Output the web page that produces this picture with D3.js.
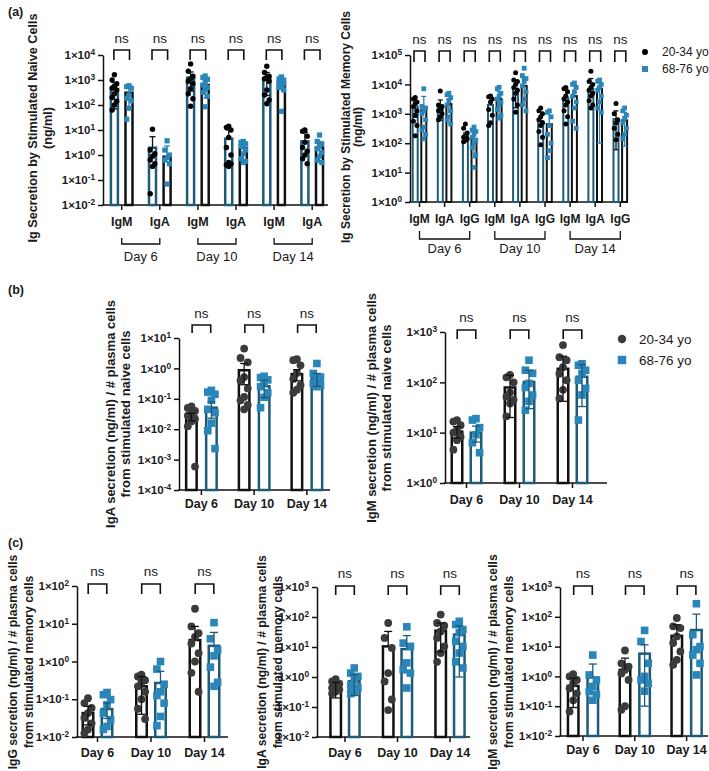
<!DOCTYPE html>
<meta charset="utf-8">
<style>
body { margin: 0; background: #fff; }
text { font-family: "Liberation Sans", Arial, Helvetica, sans-serif; fill: #1a1a1a; }
</style>
<body>
<script src="https://d3js.org/d3.v7.min.js"></script>
<script>

// ---- categories ----
var days = ["Day 6", "Day 10", "Day 14"];
var naiveCats = ["IgM", "IgA", "IgM", "IgA", "IgM", "IgA"];
var memoryCats = ["IgM", "IgA", "IgG", "IgM", "IgA", "IgG", "IgM", "IgA", "IgG"];
var groups = ["20-34 yo", "68-76 yo"];

// ---- (a) left: Ig secretion by stimulated naive cells (ng/ml) ----
var naiveYoungMean = [430, 1.95, 1230, 4.5, 1120, 3.5];
var naiveYoungErr  = [790, 5.4, 2100, 10, 2000, 7.9];
var naiveOldMean   = [310, 0.85, 630, 1.9, 710, 2.0];
var naiveOldErr    = [540, 2.3, 1070, 3.2, 1580, 3.5];
var naiveYoungPts = [
  [1620, 1000, 710, 560, 480, 400, 280, 200, 141, 100, 63],
  [10.7, 1.58, 1.12, 0.89, 0.63, 0.45, 0.35, 0.028],
  [4400, 2240, 1410, 1120, 890, 710, 450, 280, 178, 89],
  [14.1, 12.6, 10, 5.0, 2.0, 1.0, 0.5, 0.4, 0.45, 0.35],
  [3550, 2000, 1410, 1260, 1120, 890, 400, 250, 158, 112],
  [10, 8.9, 5.6, 3.2, 2.0, 1.41, 1.0, 0.71, 0.45]
];
var naiveOldPts = [
  [590, 540, 470, 250, 186, 148, 74, 27],
  [3.7, 1.58, 1.0, 0.79, 0.63, 0.45, 0.069],
  [1450, 1260, 1070, 790, 630, 500, 400, 320, 224, 85],
  [3.5, 3.2, 2.8, 2.5, 2.2, 1.58, 1.12, 0.71, 0.56, 0.5],
  [1260, 1120, 1000, 890, 790, 710, 630, 500, 400, 56],
  [6.3, 3.5, 2.8, 2.2, 1.78, 1.26, 0.89, 0.63, 0.5]
];

// ---- (a) right: Ig secretion by stimulated memory cells (ng/ml) ----
var memYoungMean = [1780, 1780, 178, 2000, 7100, 560, 3550, 7100, 660];
var memYoungErr  = [2800, 2950, 224, 4000, 12600, 1120, 7100, 15800, 1260];
var memOldMean   = [1350, 2140, 141, 3160, 8900, 450, 4000, 7100, 600];
var memOldErr    = [3900, 3160, 250, 5600, 15800, 1120, 10000, 14100, 1120];
var memYoungPts = [
  [3550, 3160, 2510, 2240, 1780, 1260, 890, 560, 400, 178],
  [6000, 2000, 1780, 1410, 1260, 1000, 790, 630],
  [450, 320, 224, 178, 158, 141, 126, 112],
  [4000, 3800, 3160, 2510, 1410, 890, 500, 400],
  [25100, 14100, 12600, 10000, 7900, 6300, 5000, 3160, 2000, 1120],
  [1580, 1260, 1000, 790, 630, 500, 400, 250, 158, 89],
  [7900, 7100, 5600, 4000, 3160, 2510, 2000, 1260, 790, 450],
  [28200, 12600, 10000, 7900, 6300, 5000, 4000, 2800, 2000, 1580],
  [2240, 1000, 630, 500, 320, 200, 132]
];
var memOldPts = [
  [7100, 1780, 1580, 1260, 1000, 630, 355, 280, 200, 141],
  [5000, 4470, 3550, 2800, 2000, 1260, 790, 630, 450],
  [355, 280, 250, 200, 158, 126, 100, 71, 40, 15],
  [7900, 7100, 5000, 4000, 3160, 2510, 2000, 1410, 890, 710],
  [35500, 20000, 15800, 12600, 8900, 5600, 3160, 2000, 1260],
  [1260, 1120, 790, 400, 200, 100, 56, 32],
  [11200, 10000, 7900, 5600, 4000, 2510, 1580, 560, 320],
  [14100, 12600, 10000, 7900, 6300, 4000, 2510, 1580, 1120],
  [1580, 1260, 890, 710, 500, 320, 200, 141]
];

// ---- (b) left: IgA per plasma cell, naive ----
var igaNaiveYoungMean = [0.026, 0.87, 0.65];
var igaNaiveYoungErr  = [0.033, 1.45, 0.91];
var igaNaiveOldMean   = [0.051, 0.26, 0.47];
var igaNaiveOldErr    = [0.079, 0.41, 0.68];
var igaNaiveYoungPts = [
  [0.056, 0.05, 0.04, 0.032, 0.028, 0.022, 0.018, 0.0126, 0.00059],
  [4.5, 2.2, 1.58, 0.52, 0.4, 0.22, 0.115, 0.089, 0.063, 0.045],
  [2.0, 1.86, 1.26, 0.71, 0.45, 0.28, 0.2, 0.158]
];
var igaNaiveOldPts = [
  [0.19, 0.166, 0.141, 0.089, 0.045, 0.035, 0.0158, 0.0089, 0.0023],
  [0.55, 0.5, 0.42, 0.35, 0.25, 0.158, 0.112, 0.051],
  [1.45, 0.68, 0.52, 0.41, 0.32, 0.28, 0.25]
];

// ---- (b) right: IgM per plasma cell, naive ----
var igmNaiveYoungMean = [10.5, 79, 186];
var igmNaiveYoungErr  = [13.2, 138, 330];
var igmNaiveOldMean   = [10, 102, 129];
var igmNaiveOldErr    = [13.5, 174, 225];
var igmNaiveYoungPts = [
  [17.8, 16.6, 14.1, 11.2, 10, 8.3, 7.1, 4.6],
  [141, 126, 100, 63, 52, 45, 38, 21],
  [550, 316, 275, 200, 148, 110, 71, 48]
];
var igmNaiveOldPts = [
  [19, 17.8, 12.6, 9.1, 6.3, 4.0],
  [275, 174, 151, 95, 79, 56, 42, 28],
  [234, 219, 174, 151, 110, 76, 56, 17.8]
];

// ---- (c) left: IgG per plasma cell, memory ----
var iggMemYoungMean = [0.043, 0.22, 3.7];
var iggMemYoungErr  = [0.065, 0.4, 8.5];
var iggMemOldMean   = [0.055, 0.27, 2.6];
var iggMemOldErr    = [0.079, 0.55, 5.9];
var iggMemYoungPts = [
  [0.107, 0.079, 0.059, 0.043, 0.032, 0.023, 0.0158, 0.0126],
  [0.45, 0.4, 0.32, 0.28, 0.22, 0.158, 0.1, 0.056, 0.03],
  [25, 8.5, 5.6, 4.5, 3.0, 1.66, 1.0, 0.5, 0.158]
];
var iggMemOldPts = [
  [0.151, 0.132, 0.098, 0.071, 0.043, 0.029, 0.019, 0.0158],
  [1.0, 0.63, 0.25, 0.158, 0.126, 0.079, 0.035, 0.02],
  [10.7, 4.0, 2.0, 1.41, 0.71, 0.28, 0.22]
];

// ---- (c) middle: IgA per plasma cell, memory ----
var igaMemYoungMean = [0.43, 10.5, 35];
var igaMemYoungErr  = [0.66, 33, 63];
var igaMemOldMean   = [0.72, 8.5, 26];
var igaMemOldErr    = [1.2, 24, 51];
var igaMemYoungPts = [
  [0.85, 0.71, 0.6, 0.5, 0.43, 0.38, 0.33, 0.28],
  [63, 20, 9.3, 1.35, 0.71, 0.178, 0.079],
  [120, 63, 51, 33, 20, 10.5, 6.3, 3.2]
];
var igaMemOldPts = [
  [2.0, 1.35, 1.05, 0.79, 0.54, 0.43, 0.33, 0.28],
  [47, 13.5, 10.5, 2.95, 1.74, 1.35, 0.43],
  [72, 56, 38, 30, 15.5, 10.5, 6.3, 3.2, 2.0]
];

// ---- (c) right: IgM per plasma cell, memory ----
var igmMemYoungMean = [0.48, 1.66, 23];
var igmMemYoungErr  = [0.87, 4.1, 54];
var igmMemOldMean   = [0.91, 5.8, 36];
var igmMemOldErr    = [2.6, 11.5, 123];
var igmMemYoungPts = [
  [1.2, 1.0, 0.76, 0.59, 0.4, 0.27, 0.158, 0.066],
  [7.4, 2.75, 2.14, 1.66, 1.26, 0.76, 0.1, 0.076],
  [91, 48, 42, 22, 13.2, 6.9, 3.6, 2.45]
];
var igmMemOldPts = [
  [5.2, 1.12, 0.76, 0.46, 0.31, 0.25, 0.158],
  [35, 14.8, 2.75, 1.0, 0.76, 0.59, 0.32],
  [275, 25, 10, 7.9, 5.2, 2.75, 1.12]
];

var TEAL = "#1d5b79", BLUE = "#2a85b8", GREY = "#3b3b3b";

var svg = d3.select("body").append("svg")
    .attr("width", 709).attr("height", 771);

function supTicks(sel) {
  sel.each(function(d) {
    var e = Math.round(Math.log10(d));
    var t = d3.select(this).text(null);
    t.append("tspan").text("1\u00d710");
    t.append("tspan").attr("dy", "-0.45em").attr("font-size", "0.72em").text(e);
  });
}

function drawPanel(p, young, old) {
  var g = svg.append("g");
  var y = d3.scaleLog().domain([Math.pow(10, p.lo), Math.pow(10, p.hi)]).range([p.bottom, p.top]);
  var n = p.cats.length;
  var x = d3.scalePoint().domain(d3.range(n)).range([p.first, p.first + p.step * (n - 1)]);
  var ymin = Math.pow(10, p.lo);

  // y axis
  var ya = g.append("g")
      .attr("transform", "translate(" + p.left + ",0)")
      .call(d3.axisLeft(y)
        .tickValues(d3.range(p.lo, p.hi + 1).map(function(e) { return Math.pow(10, e); }))
        .tickSize(5).tickSizeOuter(0).tickPadding(3));
  ya.attr("font-family", null).attr("font-size", p.tickSize).attr("font-weight", "bold");
  ya.selectAll("path, line").attr("stroke-width", 1.5).attr("stroke", "#111");
  ya.selectAll(".tick text").call(supTicks);

  // x axis
  g.append("line").attr("x1", p.left - 0.75).attr("x2", p.right)
      .attr("y1", p.bottom).attr("y2", p.bottom)
      .attr("stroke", "#111").attr("stroke-width", 1.5);
  g.selectAll(".xt").data(d3.range(n)).join("line")
      .attr("x1", function(i) { return x(i); }).attr("x2", function(i) { return x(i); })
      .attr("y1", p.bottom).attr("y2", p.bottom + 5)
      .attr("stroke", "#111").attr("stroke-width", 1.5);
  g.selectAll(".xl").data(p.cats).join("text")
      .attr("x", function(d, i) { return x(i); })
      .attr("y", p.catY)
      .attr("text-anchor", "middle")
      .attr("font-size", p.catSize).attr("font-weight", "bold")
      .text(function(d) { return d; });

  var series = [
    { d: young, off: -p.off, stroke: p.youngBar, err: p.youngErr, dot: p.youngDot, shape: "circle" },
    { d: old, off: p.off, stroke: p.oldBar, err: p.oldErr, dot: BLUE, shape: "square" }
  ];

  series.forEach(function(s) {
    g.append("g").selectAll("rect").data(s.d.mean).join("rect")
        .attr("x", function(d, i) { return x(i) + s.off - p.barW / 2; })
        .attr("y", function(d) { return y(d); })
        .attr("width", p.barW)
        .attr("height", function(d) { return p.bottom - y(d); })
        .attr("fill", "#fff").attr("stroke", s.stroke).attr("stroke-width", p.sw);
  });

  series.forEach(function(s) {
    var sg = g.append("g");
    // points
    s.d.pts.forEach(function(arr, i) {
      var cx = x(i) + s.off;
      arr.forEach(function(v, k) {
        var dx = [0, -1, 1][k % 3] * p.spread;
        if (s.shape === "circle") {
          sg.append("circle").attr("cx", cx + dx).attr("cy", y(v))
              .attr("r", p.r).attr("fill", s.dot);
        } else {
          sg.append("rect").attr("x", cx + dx - p.sq / 2).attr("y", y(v) - p.sq / 2)
              .attr("width", p.sq).attr("height", p.sq).attr("fill", s.dot);
        }
      });
    });
    // error bars (mean +/- SD)
    s.d.mean.forEach(function(m, i) {
      var cx = x(i) + s.off, hi = s.d.err[i], lo = 2 * m - hi;
      var yLo = lo > 0 ? y(Math.max(lo, ymin)) : y(m);
      sg.append("line").attr("x1", cx).attr("x2", cx)
          .attr("y1", yLo).attr("y2", y(hi))
          .attr("stroke", s.err).attr("stroke-width", 1.3);
      sg.append("line").attr("x1", cx - p.cap).attr("x2", cx + p.cap)
          .attr("y1", y(hi)).attr("y2", y(hi))
          .attr("stroke", s.err).attr("stroke-width", 1.3);
      if (lo > ymin) {
        sg.append("line").attr("x1", cx - p.cap).attr("x2", cx + p.cap)
            .attr("y1", y(lo)).attr("y2", y(lo))
            .attr("stroke", s.err).attr("stroke-width", 1.3);
      }
    });
  });

  // ns brackets
  d3.range(n).forEach(function(i) {
    var x1 = x(i) - p.brHalf, x2 = x(i) + p.brHalf;
    g.append("path")
        .attr("d", "M" + x1 + "," + p.brBot + "V" + p.brTop + "H" + x2 + "V" + p.brBot)
        .attr("fill", "none").attr("stroke", "#111").attr("stroke-width", 1.6);
    g.append("text").attr("x", x(i)).attr("y", p.nsY)
        .attr("text-anchor", "middle").attr("font-size", 13.5).text("ns");
  });

  // day brackets under grouped categories
  if (p.dayGroups) {
    p.dayGroups.forEach(function(gr, j) {
      var x1 = x(gr[0]), x2 = x(gr[1]);
      g.append("path")
          .attr("d", "M" + x1 + "," + p.dayTop + "V" + p.dayLine + "H" + x2 + "V" + p.dayTop)
          .attr("fill", "none").attr("stroke", "#111").attr("stroke-width", 1.3);
      g.append("text").attr("x", (x1 + x2) / 2).attr("y", p.dayY)
          .attr("text-anchor", "middle").attr("font-size", 13).text(days[j]);
    });
  }

  // y title
  var t = g.append("text")
      .attr("transform", "translate(" + p.tx + "," + p.ty + ") rotate(-90)")
      .attr("text-anchor", "middle").attr("font-weight", "bold").attr("font-size", p.titleSize);
  p.title.forEach(function(line, k) {
    t.append("tspan").attr("x", 0).attr("y", k * p.lineGap).attr("dy", "0.35em").text(line);
  });
}

function legend(x0, y0, gap, r, sq, dotColor, size) {
  var lg = svg.append("g");
  lg.append("circle").attr("cx", x0).attr("cy", y0).attr("r", r).attr("fill", dotColor);
  lg.append("rect").attr("x", x0 - sq / 2).attr("y", y0 + gap - sq / 2)
      .attr("width", sq).attr("height", sq).attr("fill", BLUE);
  lg.selectAll("text").data(groups).join("text")
      .attr("x", x0 + 17).attr("y", function(d, i) { return y0 + i * gap; })
      .attr("dy", "0.36em").attr("font-size", size).text(function(d) { return d; });
}

var aCommon = { youngBar: TEAL, oldBar: "#111", youngErr: "#111", oldErr: BLUE, youngDot: "#000",
  r: 2.7, sq: 5.2, spread: 2.3, cap: 3, catSize: 12.5, tickSize: 11.5, titleSize: 12.6, lineGap: 15 };
var bcCommon = { youngBar: "#111", oldBar: TEAL, youngErr: "#111", oldErr: TEAL, youngDot: GREY,
  r: 3.9, sq: 7.6, spread: 3.6, cap: 4, barW: 10.5, sw: 2.5, brHalf: 9.3, catSize: 12.5,
  tickSize: 11.5, titleSize: 13, lineGap: 15.5 };

drawPanel(Object.assign({}, aCommon, {
  cats: naiveCats, left: 103, right: 328, top: 55, bottom: 205, lo: -2, hi: 4,
  first: 121.7, step: 38.1, off: 7.3, barW: 7, sw: 2.5, brHalf: 7.8,
  nsY: 43, brTop: 50, brBot: 60, catY: 226,
  dayGroups: [[0, 1], [2, 3], [4, 5]], dayTop: 238, dayLine: 244, dayY: 261,
  title: ["Ig Secretion by Stimulated Naive Cells", "(ng/ml)"], tx: 33, ty: 128
}), { mean: naiveYoungMean, err: naiveYoungErr, pts: naiveYoungPts },
    { mean: naiveOldMean, err: naiveOldErr, pts: naiveOldPts });

drawPanel(Object.assign({}, aCommon, {
  cats: memoryCats, left: 410, right: 628, top: 55, bottom: 202, lo: 0, hi: 5,
  first: 419.5, step: 25.1, off: 4.3, barW: 5, sw: 2, brHalf: 5.5, r: 2.5, sq: 4.8, spread: 1.8, cap: 2.5,
  catSize: 12, nsY: 44, brTop: 51, brBot: 62, catY: 223,
  dayGroups: [[0, 2], [3, 5], [6, 8]], dayTop: 231, dayLine: 239, dayY: 253,
  title: ["Ig Secretion by Stimulated Memory Cells", "(ng/ml)"], tx: 346, ty: 127,
  lineGap: 12, titleSize: 12
}), { mean: memYoungMean, err: memYoungErr, pts: memYoungPts },
    { mean: memOldMean, err: memOldErr, pts: memOldPts });

drawPanel(Object.assign({}, bcCommon, {
  cats: days, left: 179, right: 330, top: 338, bottom: 490, lo: -4, hi: 1,
  first: 201.4, step: 52.75, off: 10, nsY: 318, brTop: 325, brBot: 333, catY: 508,
  title: ["IgA secretion (ng/ml) / # plasma cells", "from stimulated naive cells"], tx: 110, ty: 414
}), { mean: igaNaiveYoungMean, err: igaNaiveYoungErr, pts: igaNaiveYoungPts },
    { mean: igaNaiveOldMean, err: igaNaiveOldErr, pts: igaNaiveOldPts });

drawPanel(Object.assign({}, bcCommon, {
  cats: days, left: 445, right: 607, top: 332, bottom: 483, lo: 0, hi: 3,
  first: 466.5, step: 53, off: 9.5, nsY: 322, brTop: 330, brBot: 339, catY: 504,
  title: ["IgM secretion (ng/ml) / # plasma cells", "from stimulated naive cells"], tx: 371, ty: 408
}), { mean: igmNaiveYoungMean, err: igmNaiveYoungErr, pts: igmNaiveYoungPts },
    { mean: igmNaiveOldMean, err: igmNaiveOldErr, pts: igmNaiveOldPts });

drawPanel(Object.assign({}, bcCommon, {
  cats: days, left: 77, right: 228, top: 586, bottom: 737, lo: -2, hi: 2,
  first: 97.5, step: 53.5, off: 9.5, nsY: 576, brTop: 584, brBot: 594, catY: 757,
  title: ["IgG secretion (ng/ml) / # plasma cells", "from stimulated memory cells"], tx: 13, ty: 662,
  titleSize: 12.2
}), { mean: iggMemYoungMean, err: iggMemYoungErr, pts: iggMemYoungPts },
    { mean: iggMemOldMean, err: iggMemOldErr, pts: iggMemOldPts });

drawPanel(Object.assign({}, bcCommon, {
  cats: days, left: 317, right: 470, top: 587, bottom: 737, lo: -2, hi: 3,
  first: 345, step: 52.5, off: 9.3, nsY: 578, brTop: 586, brBot: 595, catY: 757,
  title: ["IgA secretion (ng/ml) / # plasma cells", "from stimulated memory cells"], tx: 262, ty: 662,
  titleSize: 12.2
}), { mean: igaMemYoungMean, err: igaMemYoungErr, pts: igaMemYoungPts },
    { mean: igaMemOldMean, err: igaMemOldErr, pts: igaMemOldPts });

drawPanel(Object.assign({}, bcCommon, {
  cats: days, left: 560, right: 708, top: 587, bottom: 736, lo: -2, hi: 3,
  first: 583, step: 51.8, off: 9.8, nsY: 578, brTop: 586, brBot: 595, catY: 754,
  title: ["IgM secretion (ng/ml) / # plasma cells", "from stimulated memory cells"], tx: 493, ty: 662,
  titleSize: 12.2
}), { mean: igmMemYoungMean, err: igmMemYoungErr, pts: igmMemYoungPts },
    { mean: igmMemOldMean, err: igmMemOldErr, pts: igmMemOldPts });

legend(645, 52, 17, 3, 6, "#000", 12);
legend(622, 339, 21, 4.2, 8.5, GREY, 13.5);

// panel letters
svg.selectAll(".plab").data([["(a)", 16], ["(b)", 294], ["(c)", 547]]).join("text")
    .attr("x", 8).attr("y", function(d) { return d[1]; })
    .attr("font-size", 12.5).attr("font-weight", "bold")
    .text(function(d) { return d[0]; });

</script>
</body>
